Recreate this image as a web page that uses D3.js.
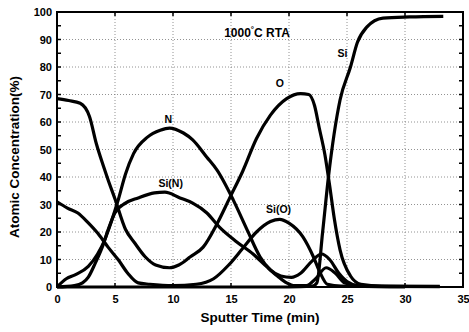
<!DOCTYPE html>
<html>
<head>
<meta charset="utf-8">
<script src="https://cdn.jsdelivr.net/npm/d3@7"></script>
<style>
  body { margin: 0; background: #fff; }
  text { font-family: "Liberation Sans", Arial, sans-serif; font-weight: bold; fill: #000; }
</style>
</head>
<body>
<div id="chart"></div>
<script>
// DATA  [time (min), concentration (%)]
const oxygen = [[0,68.5],[1,67.8],[2,66.8],[2.8,62],[3.4,52],[4,44],[4.4,39],[5,32],[5.9,21],[6.7,16],[7.6,11],
  [8.5,8],[9.7,7],[10.5,8],[11.5,11],[12.6,14.5],[13.8,23],[14.9,32.5],[16,42],[17.2,54],[18.4,62.5],
  [19.8,68.5],[21,70.3],[21.7,70],[22.2,66],[22.6,58],[23.1,48],[23.5,37],[23.9,25],[24.4,13.5],[25.3,4],[26.2,1],[28,0.3],[33,0.2]]
const nitrogen = [[0,0],[0.8,3],[1.6,4.5],[2.7,7.5],[3.5,12],[4.1,17],[4.7,24],[5.3,32],[5.9,41],[6.6,48.5],
  [7.8,54.5],[8.9,57],[9.7,57.8],[10.9,56],[11.7,53.5],[12.9,47.3],[13.8,42.5],[15.2,31.6],[16.4,20.7],
  [17.5,11],[18.4,6.2],[19.3,4],[20.2,3.5],[21,5],[22,9.5],[22.8,12],[23.5,10],[24.3,5],[25,2],[26,0.5],[28,0.2],[33,0.1]]
const siN = [[0,0],[1.5,0.5],[2.2,1.5],[2.7,3.6],[3.3,8.7],[3.9,14.5],[4.4,20.7],[5,27],[5.9,30.5],[7,32.4],
  [8.4,34.2],[9.3,34.5],[10.6,32.4],[11.7,30.5],[12.9,27],[14,21.8],[15.5,16.4],[16.9,12],[18.1,7.3],
  [19,4],[19.8,1.5],[20.5,0.5],[21.5,0.5],[22.3,3],[23.2,7],[24,5],[24.8,1.5],[26,0.3],[30,0.1]]
const siO = [[0,31],[0.9,28.7],[1.8,26.9],[2.7,23.3],[3.5,19.6],[4.4,14.5],[5.3,9.8],[6.1,5],[7,1.5],[8,1],
  [10,0.5],[12,1],[13.5,3],[14.8,8],[16,14],[17.2,20],[18.4,23.8],[19.2,24.6],[20,23.2],[21.2,18.2],
  [22.1,11],[22.7,5],[23.3,1],[24.5,0.3],[30,0.1]]
const silicon = [[0,0],[10,0],[20,0],[22,0.3],[22.4,1.5],[22.9,20],[23.4,40],[24.4,68],[25.3,80],[25.9,89],
  [26.7,94.5],[28.1,97.8],[30.4,98.2],[33.3,98.4]]

const labels = [
  {text: "N", t: 9.6, v: 59.5},
  {text: "Si(N)", t: 9.8, v: 36.3},
  {text: "O", t: 19.2, v: 72.8},
  {text: "Si(O)", t: 19.1, v: 27},
  {text: "Si", t: 24.6, v: 83.5}
]
const xTicks = [0,5,10,15,20,25,30,35]
const yTicks = [0,10,20,30,40,50,60,70,80,90,100]

const width = 469, height = 332

const x = d3.scaleLinear().domain([0, 35]).range([57, 463])
const y = d3.scaleLinear().domain([0, 100]).range([287, 12])

const svg = d3.select("#chart")
  .append("svg")
  .attr("width", width)
  .attr("height", height)

// GRID
svg.append("g")
  .selectAll("line")
  .data(yTicks.slice(1, -1))
  .join("line")
    .attr("x1", x(0)).attr("x2", x(35))
    .attr("y1", d => y(d)).attr("y2", d => y(d))
    .attr("stroke", "#777").attr("stroke-width", 0.8)
    .attr("stroke-dasharray", "1,2")

svg.append("g")
  .selectAll("line")
  .data(xTicks.slice(1, -1))
  .join("line")
    .attr("x1", d => x(d)).attr("x2", d => x(d))
    .attr("y1", y(0)).attr("y2", y(100))
    .attr("stroke", "#777").attr("stroke-width", 0.8)
    .attr("stroke-dasharray", "1,2")

// AXES (ticks pointing inward)
const xAxis = d3.axisBottom(x).tickValues(xTicks).tickSize(0).tickPadding(8)
const yAxis = d3.axisLeft(y).tickValues(yTicks).tickSize(0).tickPadding(5)

svg.append("g")
  .attr("transform", `translate(0, ${y(0)})`)
  .call(xAxis)
  .call(g => g.select(".domain").remove())
  .selectAll("text").attr("font-size", 11).attr("font-family", "Liberation Sans, Arial").attr("font-weight", "bold")

svg.append("g")
  .attr("transform", `translate(${x(0)}, 0)`)
  .call(yAxis)
  .call(g => g.select(".domain").remove())
  .selectAll("text").attr("font-size", 11).attr("font-family", "Liberation Sans, Arial").attr("font-weight", "bold")

// small inward ticks on all four sides
const yMinor = d3.range(0, 101, 5)
const xMinor = d3.range(0, 36, 5)
const tk = svg.append("g").attr("stroke", "#000").attr("stroke-width", 1.5)
tk.selectAll(".tl").data(yMinor).join("line")
  .attr("x1", x(0)).attr("x2", x(0) + 4)
  .attr("y1", d => y(d)).attr("y2", d => y(d))
tk.selectAll(".tr").data(yMinor).join("line")
  .attr("x1", x(35)).attr("x2", x(35) - 4)
  .attr("y1", d => y(d)).attr("y2", d => y(d))
tk.selectAll(".tb").data(xMinor).join("line")
  .attr("x1", d => x(d)).attr("x2", d => x(d))
  .attr("y1", y(0)).attr("y2", y(0) - 4)
tk.selectAll(".tt").data(xMinor).join("line")
  .attr("x1", d => x(d)).attr("x2", d => x(d))
  .attr("y1", y(100)).attr("y2", y(100) + 4)

// FRAME
svg.append("rect")
  .attr("x", x(0)).attr("y", y(100))
  .attr("width", x(35) - x(0)).attr("height", y(0) - y(100))
  .attr("fill", "none").attr("stroke", "#000").attr("stroke-width", 2)

// CURVES
const line = d3.line()
  .x(d => x(d[0]))
  .y(d => y(d[1]))
  .curve(d3.curveMonotoneX)

svg.append("g")
  .selectAll("path")
  .data([oxygen, nitrogen, siN, siO, silicon])
  .join("path")
    .attr("d", line)
    .attr("fill", "none")
    .attr("stroke", "#000")
    .attr("stroke-width", 3.2)
    .attr("stroke-linejoin", "round")

// LABELS
svg.append("g")
  .selectAll("text")
  .data(labels)
  .join("text")
    .attr("x", d => x(d.t))
    .attr("y", d => y(d.v))
    .attr("text-anchor", "middle")
    .attr("font-size", 10.5)
    .text(d => d.text)

svg.append("text")
  .attr("x", 257).attr("y", 37)
  .attr("text-anchor", "middle")
  .attr("font-size", 12)
  .html("1000<tspan dy='-5' font-size='8'>°</tspan><tspan dy='5'>C RTA</tspan>")

svg.append("text")
  .attr("x", 260).attr("y", 322)
  .attr("text-anchor", "middle")
  .attr("font-size", 13.5)
  .text("Sputter Time (min)")

svg.append("text")
  .attr("transform", `translate(19, 157) rotate(-90)`)
  .attr("text-anchor", "middle")
  .attr("font-size", 13.5)
  .text("Atomic Concentration(%)")
</script>
</body>
</html>
